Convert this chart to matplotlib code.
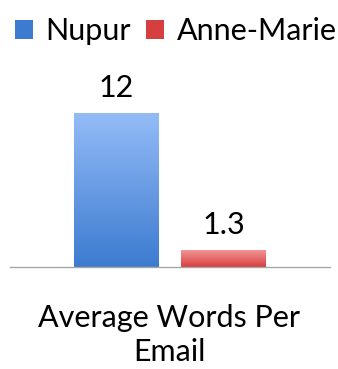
import numpy as np
import matplotlib.pyplot as plt
from matplotlib.colors import LinearSegmentedColormap
from matplotlib.patches import Patch

people = ["Nupur", "Anne-Marie"]
words = [12, 1.3]
labels = ["12", "1.3"]
title = "Average Words Per\nEmail"

# top / bottom colours of each bar's vertical gradient
shades = [("#94BCF7", "#3D7BD0"), ("#F39494", "#D63F3F")]

plt.rcParams["font.family"] = ["Lato", "DejaVu Sans"]
fs = 22

fig = plt.figure(figsize=(3.38, 3.69), dpi=100)
ax = fig.add_axes([10 / 338, 102 / 369, 320 / 338, 180 / 369])

x = np.arange(len(people))
bars = ax.bar(x, words, width=0.79, color="none", edgecolor="none")

grad = np.linspace(1, 0, 256).reshape(-1, 1)
for bar, (top, bottom) in zip(bars, shades):
    cmap = LinearSegmentedColormap.from_list("g", [bottom, top])
    x0, y0 = bar.get_x(), bar.get_y()
    w, h = bar.get_width(), bar.get_height()
    im = ax.imshow(grad, cmap=cmap, extent=[x0, x0 + w, y0, y0 + h],
                   aspect="auto", vmin=0, vmax=1, zorder=2)
    im.set_clip_path(bar)

for xi, v, s in zip(x, words, labels):
    ax.annotate(s, (xi, v), xytext=(0, 11.5), textcoords="offset points",
                ha="center", va="baseline", fontsize=fs)

ax.set_xlim(-0.988, 1.988)
ax.set_ylim(0, 14)
ax.set_xticks([])
ax.set_yticks([])
for side in ["top", "right", "left"]:
    ax.spines[side].set_visible(False)
ax.spines["bottom"].set_color("#A6A6A6")
ax.spines["bottom"].set_linewidth(1)

handles = [Patch(facecolor=c[1], edgecolor="none") for c in shades]
fig.legend(handles, people, loc="upper center",
           bbox_to_anchor=(0.52, 1 - 5 / 369),
           ncol=2, frameon=False, fontsize=fs, handlelength=0.6,
           handleheight=0.6, handletextpad=0.4, columnspacing=0.5,
           borderaxespad=0.0)

fig.text(0.5, 3 / 369, title, ha="center", va="bottom", fontsize=fs,
         linespacing=1.25)

fig.savefig("out.png", dpi=100)
